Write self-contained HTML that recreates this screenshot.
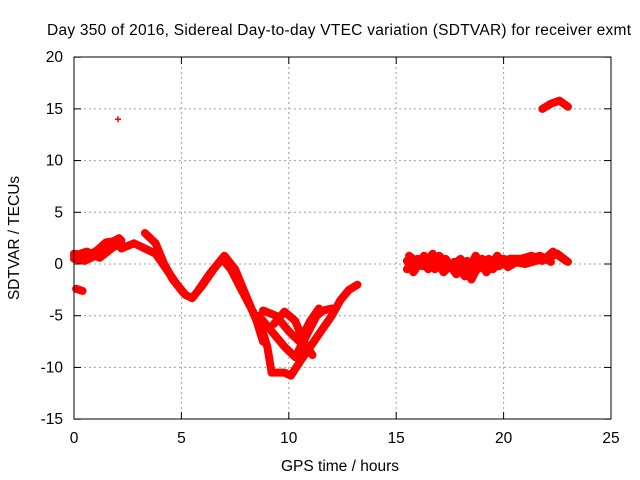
<!DOCTYPE html>
<html><head><meta charset="utf-8"><style>
body{margin:0;background:#fff}
svg{display:block;font-family:"Liberation Sans",sans-serif;font-size:15.5px}
</style></head><body>
<svg id="chart" width="640" height="480">
<text x="339" y="35" text-anchor="middle" textLength="584">Day 350 of 2016, Sidereal Day-to-day VTEC variation (SDTVAR) for receiver exmt</text>
<text x="340" y="471" text-anchor="middle">GPS time / hours</text>
<text transform="translate(19,238) rotate(-90)" text-anchor="middle">SDTVAR / TECUs</text>
<g id="grid"></g><g id="marks"></g>
<rect x="74" y="57" width="537" height="362" fill="none" stroke="#000"/>
<g id="ticks"></g>
</svg>
<script>
const xTicks=[0,5,10,15,20,25];
const yTicks=[-15,-10,-5,0,5,10,15,20];
const track1=[[0,0.5],[0.5,0.3],[1,0.8],[1.5,1.8],[2.1,2.5]];
const track2=[[0,1],[0.5,0.8],[1,1.2],[1.5,2.1],[2.2,2.3]];
const track3=[[0.1,-2.4],[0.4,-2.6]];
const track4=[[2.2,1.5],[2.8,2],[3.3,1.5],[3.8,1],[4.3,-0.5],[4.8,-2],[5.2,-3],[5.5,-3.3]];
const track5=[[3.3,3],[3.8,2],[4.2,0],[4.6,-1.5],[5.1,-2.8]];
const track6=[[5.5,-3.3],[6,-2],[6.5,-0.5],[6.9,0.5],[7.3,-0.5],[7.8,-2.5],[8.3,-4.5],[8.7,-6],[9,-8],[9.2,-10.5]];
const track7=[[5.8,-2.5],[6.3,-1],[7,0.8],[7.5,-0.5],[8,-3],[8.5,-5.5],[8.8,-7.5]];
const track8=[[9.2,-10.5],[9.8,-10.5],[10.1,-10.8],[10.5,-9.5],[11,-8],[11.5,-6.5],[12,-5],[12.4,-3.5],[12.8,-2.5],[13.2,-2]];
const track9=[[8.6,-5],[9.2,-6.5],[9.8,-8],[10.3,-9],[10.8,-7],[11.3,-5],[11.6,-4.5],[12,-4.3]];
const track10=[[8.8,-4.5],[9.4,-5],[10,-6.5],[10.5,-7.5],[11,-5.5],[11.4,-4.3]];
const track11=[[9.3,-5.8],[9.8,-4.6],[10.3,-5.5],[10.7,-7.5],[11.1,-8.8]];
const track12=[[15.5,0.3],[15.8,-0.8],[16.3,0.8],[16.8,-0.5],[17.3,0.5],[17.8,-1],[18.3,0.3],[18.8,-0.5],[19.3,0.5],[19.8,-0.2],[20.3,0.5],[20.8,0.5],[21.3,0.8],[21.8,0.3],[22.3,1.2],[22.9,0.3]];
const track13=[[15.5,-0.5],[16,0.5],[16.5,-0.5],[17,0.8],[17.5,-0.3],[18,0.5],[18.5,-1.5],[19,0.5],[19.5,-0.5],[20,0.5],[20.5,0.2],[21,0],[21.5,0.3],[22,0.5],[22.5,1],[23,0.2]];
const track14=[[21.8,15],[22.2,15.5],[22.6,15.8],[23,15.2]];
const track15=[[15.6,0.8],[16.2,-0.2],[16.7,1],[17.2,-0.8],[17.7,0.2],[18.2,-1.2],[18.7,0.8],[19.2,-0.8],[19.7,0.8],[20.2,-0.3],[20.7,0.3],[21.2,0.5],[21.7,0.8],[22.2,0.2]];
const track16=[[0,0.8],[0.6,1.2],[1.2,0.6],[1.8,1.6],[2.2,2]];
const outliers=[[2.05,14]];
const tracks=[track1,track2,track3,track4,track5,track6,track7,track8,track9,track10,track11,track12,track13,track14,track15,track16];
const NS='http://www.w3.org/2000/svg';
const X=v=>74+v*537/25, Y=v=>264-v*362/35;
function mk(tag,attrs,parent){const e=document.createElementNS(NS,tag);for(const k in attrs)e.setAttribute(k,attrs[k]);parent.appendChild(e);return e;}
const grid=document.getElementById('grid'),ticks=document.getElementById('ticks'),marks=document.getElementById('marks');
xTicks.forEach(t=>{const x=X(t);
 if(t>0&&t<25){const g=mk('line',{x1:x,x2:x,y1:57,y2:419,stroke:'#a0a0a0','stroke-dasharray':'2,3'},grid);
 
 }
 mk('line',{x1:x,x2:x,y1:419,y2:412,stroke:'#000'},ticks);mk('line',{x1:x,x2:x,y1:57,y2:64,stroke:'#000'},ticks);
 const l=mk('text',{x:x,y:443,'text-anchor':'middle'},ticks);l.textContent=t;
 
 });
yTicks.forEach(t=>{const y=Y(t);
 if(t>-15&&t<20){const g=mk('line',{x1:74,x2:611,y1:y,y2:y,stroke:'#a0a0a0','stroke-dasharray':'2,3'},grid);
 
 }
 mk('line',{x1:74,x2:81,y1:y,y2:y,stroke:'#000'},ticks);mk('line',{x1:604,x2:611,y1:y,y2:y,stroke:'#000'},ticks);
 const l=mk('text',{x:63,y:y+5,'text-anchor':'end'},ticks);l.textContent=t;
 
 });
tracks.forEach(tr=>{const d=tr.map((p,i)=>(i?'L':'M')+X(p[0]).toFixed(1)+','+Y(p[1]).toFixed(1)).join('');
 const p=mk('path',{d:d,fill:'none',stroke:'#f00','stroke-width':8,'stroke-linejoin':'round','stroke-linecap':'round'},marks);
 
 });
outliers.forEach(o=>{const x=X(o[0]),y=Y(o[1]);
 const p=mk('path',{d:`M${x-3},${y}h6M${x},${y-3}v6`,stroke:'#f00','stroke-width':1.5},marks);
 
 });
</script>
</body></html>
